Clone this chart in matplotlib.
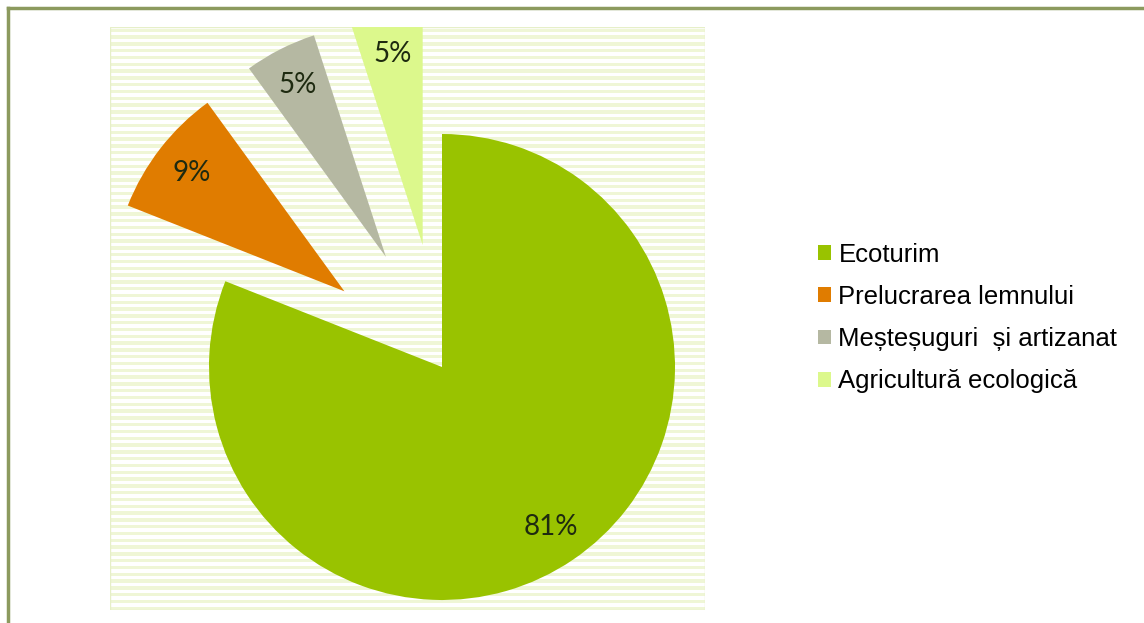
import numpy as np
import matplotlib.pyplot as plt
from matplotlib.patches import Rectangle

# data
labels = ['Ecoturim', 'Prelucrarea lemnului', 'Meșteșuguri  și artizanat', 'Agricultură ecologică']
values = [81, 9, 5, 5]
colors = ['#99c300', '#e07c00', '#b5b8a2', '#dcf88c']
explode_frac = [0, 0.53, 0.53, 0.53]

W, H = 1144, 623
fig = plt.figure(figsize=(W / 100, H / 100), dpi=100)

# outer frame (left + top olive line)
fig.add_artist(plt.Line2D([8 / W, 8 / W], [0, 1 - 8 / H], color='#8c9a5e', lw=2.5))
fig.add_artist(plt.Line2D([8 / W, 1], [1 - 8 / H, 1 - 8 / H], color='#8c9a5e', lw=2.5))

# plot area in pixel units
x0, x1, ytop, ybot = 110, 705, 27, 610
ax = fig.add_axes([x0 / W, 1 - ybot / H, (x1 - x0) / W, (ybot - ytop) / H])
ax.axis('off')

# striped background
stripe = 6.8
y = H - ybot
while y < H - ytop:
    ax.add_patch(Rectangle((x0, y), x1 - x0, stripe / 2, color='#eff6d6', lw=0, zorder=0))
    y += stripe
ax.add_patch(Rectangle((x0, H - ybot), x1 - x0, ybot - ytop, fill=False,
                       edgecolor='#e6efc8', lw=1, zorder=0))

r = 233
wedges, texts, autotexts = ax.pie(values, colors=colors,
                                  explode=[e * r for e in explode_frac],
                                  startangle=90, counterclock=False,
                                  center=(442, H - 367), radius=r,
                                  autopct='%1.0f%%', pctdistance=0.83,
                                  wedgeprops=dict(linewidth=0),
                                  textprops=dict(fontsize=20, family='Lato',
                                                 color='#1e2a10'))
for w in wedges:
    w.set_clip_on(True)
    w.set_clip_path(ax.patch)
ax.set_xlim(x0, x1)
ax.set_ylim(H - ybot, H - ytop)
ax.set_aspect('auto')

leg = fig.legend(wedges, labels, loc='center left',
                 bbox_to_anchor=(805 / W, 1 - 318 / H), frameon=False,
                 prop=dict(family='Liberation Sans', size=18.5),
                 handlelength=0.5, handleheight=0.5, handletextpad=0.3,
                 labelspacing=0.71, borderpad=0)

fig.savefig('out.png', dpi=100)
